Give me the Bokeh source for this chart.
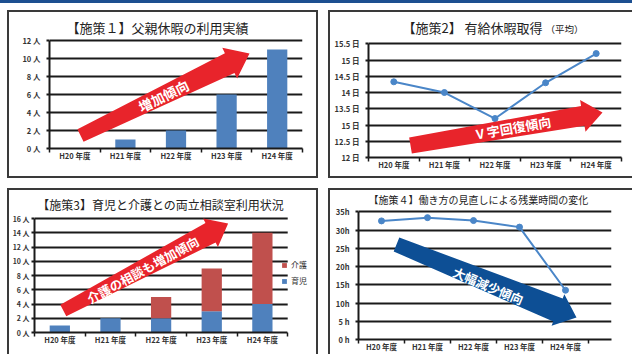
import math
from bokeh.plotting import figure
from bokeh.layouts import column, row
from bokeh.models import (Range1d, FixedTicker, Label, Legend, LegendItem, BoxAnnotation,
                          ColumnDataSource, PolyAnnotation, Spacer)
from bokeh.embed import file_html
from bokeh.resources import INLINE

# ---------------- data ----------------
categories = ["H20 年度", "H21 年度", "H22 年度", "H23 年度", "H24 年度"]
paternity_leave = [0, 1, 2, 6, 11]                     # 施策1 (人)
paid_leave_days = [14.33, 14.0, 13.2, 14.3, 15.2]      # 施策2 (日)
consult_childcare = [1, 2, 2, 3, 4]                     # 施策3 育児 (人)
consult_nursing = [0, 0, 3, 6, 10]                      # 施策3 介護 (人)
overtime_hours = [32.5, 33.4, 32.6, 30.8, 13.5]         # 施策4 (h)

p1_ticks = [0, 2, 4, 6, 8, 10, 12]
p1_tick_labels = ["0 人", "2 人", "4 人", "6 人", "8 人", "10 人", "12 人"]
p2_ticks = [12, 12.5, 13, 13.5, 14, 14.5, 15, 15.5]
p2_tick_labels = ["12 日", "12.5 日", "15 日", "13.5 日", "14 日", "14.5 日", "15 日", "15.5 日"]
p3_ticks = [0, 2, 4, 6, 8, 10, 12, 14, 16]
p3_tick_labels = ["0 人", "2 人", "4 人", "6 人", "8 人", "10 人", "12 人", "14 人", "16 人"]
p4_ticks = [0, 5, 10, 15, 20, 25, 30, 35]
p4_tick_labels = ["0 h", "5 h", "10h", "15h", "20h", "25h", "30h", "35h"]

titles = ["【施策１】父親休暇の利用実績", "【施策2】 有給休暇取得", "（平均）",
          "【施策3】育児と介護との両立相談室利用状況",
          "【施策４】働き方の見直しによる残業時間の変化"]
arrow_texts = ["増加傾向", "V 字回復傾向", "介護の相談も増加傾向", "大幅減少傾向"]
legend_labels = ["介護", "育児"]

FONT = "Noto Sans CJK JP"
BLUE = "#4f81bd"
RED = "#c0504d"
LINE = "#4a86c8"
ARROW_RED = "#e8242b"
ARROW_BLUE = "#0d4f95"
TOPBAR = "#1c4f90"
BORDER = "#3a3a3a"
INK = "#1a1a1a"

n = len(categories)
centers = [i + 0.5 for i in range(n)]
bounds = list(range(n + 1))


def make_panel(canvas, frame, chart, y_lo, y_axis_top, x_chart_hi, yticks, ylabels,
               ystandoff=6, yfont="7.5px"):
    """canvas/frame/chart boxes in absolute page pixels.  The frame reaches the
    canvas top so that titles can be drawn inside it, above the chart area."""
    cx, cy, cw, ch = canvas
    fl, ft, fr, fb = frame
    chart_right, chart_top = chart
    y_per_px = (y_axis_top - y_lo) / (fb - chart_top)
    x_per_px = x_chart_hi / (chart_right - fl)
    y_hi = y_lo + (fb - ft) * y_per_px
    x_hi = (fr - fl) * x_per_px
    p = figure(width=cw, height=ch, x_range=Range1d(0, x_hi), y_range=Range1d(y_lo, y_hi),
               min_border_left=fl - cx, min_border_right=cx + cw - fr,
               min_border_top=ft - cy, min_border_bottom=cy + ch - fb,
               output_backend="svg", toolbar_location=None, tools="",
               background_fill_color="white", border_fill_color="white",
               outline_line_color=None)

    def X(px):
        return (px - fl) * x_per_px

    def Y(py):
        return y_lo + (fb - py) * y_per_px

    xa = p.xaxis[0]
    xa.ticker = FixedTicker(ticks=centers, minor_ticks=bounds)
    xa.major_label_overrides = {c: lab for c, lab in zip(centers, categories)}
    xa.major_tick_line_color = None
    xa.major_tick_out = 0
    xa.minor_tick_line_color = INK
    xa.minor_tick_line_width = 1.5
    xa.minor_tick_out = 4
    xa.minor_tick_in = 0
    xa.axis_line_color = INK
    xa.axis_line_width = 2
    xa.major_label_standoff = -3
    xa.major_label_text_font = FONT
    xa.major_label_text_font_size = "7.5px"
    xa.major_label_text_font_style = "bold"
    xa.major_label_text_color = "#333333"

    ya = p.yaxis[0]
    ya.ticker = FixedTicker(ticks=yticks, minor_ticks=[])
    ya.bounds = (y_lo, y_axis_top)
    ya.major_label_overrides = dict(zip(yticks, ylabels))
    ya.major_tick_line_color = INK
    ya.major_tick_line_width = 2
    ya.major_tick_out = 3
    ya.major_tick_in = 0
    ya.axis_line_color = INK
    ya.axis_line_width = 2
    ya.major_label_standoff = ystandoff
    ya.major_label_text_font = FONT
    ya.major_label_text_font_size = yfont
    ya.major_label_text_font_style = "bold"
    ya.major_label_text_color = "#333333"

    p.xgrid.visible = False
    p.ygrid.ticker = FixedTicker(ticks=yticks)
    p.ygrid.grid_line_color = INK
    p.ygrid.grid_line_width = 2
    p.ygrid.grid_line_alpha = 1
    return p, X, Y


def add_arrow(p, X, Y, T, P, w0, w1, wh, lh, color):
    dx, dy = P[0] - T[0], P[1] - T[1]
    L = math.hypot(dx, dy)
    ux, uy = dx / L, dy / L
    nx, ny = -uy, ux
    bx, by = P[0] - ux * lh, P[1] - uy * lh
    pts = [(T[0] + nx * w0 / 2, T[1] + ny * w0 / 2),
           (bx + nx * w1 / 2, by + ny * w1 / 2),
           (bx + nx * wh / 2, by + ny * wh / 2),
           P,
           (bx - nx * wh / 2, by - ny * wh / 2),
           (bx - nx * w1 / 2, by - ny * w1 / 2),
           (T[0] - nx * w0 / 2, T[1] - ny * w0 / 2)]
    p.add_layout(PolyAnnotation(xs=[X(a) for a, b in pts], ys=[Y(b) for a, b in pts],
                                fill_color=color, fill_alpha=1, line_color=None))


def add_text(p, X, Y, x, y, text, size, color="#222222", align="center", angle=0.0,
             style="normal"):
    p.add_layout(Label(x=X(x), y=Y(y), text=text, text_font=FONT, text_font_size=size,
                       text_align=align, text_baseline="middle", text_color=color,
                       angle=math.radians(angle), text_font_style=style))


# ---------------- panel 1 ----------------
p1, X1, Y1 = make_panel((9, 12, 307, 164), (49, 12, 302, 148), (302, 40), 0, 12, 5,
                        p1_ticks, p1_tick_labels)
p1.vbar(x=centers, top=paternity_leave, width=0.4, fill_color=BLUE, line_color=None)
add_text(p1, X1, Y1, 157, 27, titles[0], "13px")
add_arrow(p1, X1, Y1, (80, 135), (249, 53), 14, 22, 34, 22, ARROW_RED)
add_text(p1, X1, Y1, 163, 95, arrow_texts[0], "13.5px", "white", angle=25.8, style="bold")

# ---------------- panel 2 ----------------
p2, X2, Y2 = make_panel((330, 12, 302, 164), (368, 12, 621, 157), (621, 43.3), 12, 15.5, 5,
                        p2_ticks, p2_tick_labels)
p2.line(x=centers, y=paid_leave_days, line_color=LINE, line_width=2)
p2.scatter(x=centers, y=paid_leave_days, size=6, fill_color=LINE, line_color=LINE)
add_text(p2, X2, Y2, 472, 27, titles[1], "13px")
add_text(p2, X2, Y2, 545, 28, titles[2], "9.5px", align="left")
add_arrow(p2, X2, Y2, (410, 145), (602, 112), 16, 20, 32, 20, ARROW_RED)
add_text(p2, X2, Y2, 513, 127, arrow_texts[1], "13px", "white", angle=9.8, style="bold")

# ---------------- panel 3 ----------------
p3, X3, Y3 = make_panel((9, 190, 307, 164), (32, 190, 316, 332), (287, 218), 0, 16, 5,
                        p3_ticks, p3_tick_labels, ystandoff=2, yfont="7px")
p3.xaxis[0].bounds = (0, 5)
src3 = ColumnDataSource(dict(x=centers, 育児=consult_childcare, 介護=consult_nursing))
stack = p3.vbar_stack(["育児", "介護"], x="x", width=0.4, color=[BLUE, RED],
                      line_color=None, source=src3)
# blank the strip right of the chart (legend area) so grid lines stop at the last category
p3.add_layout(BoxAnnotation(left=5, right=None, top=None, bottom=None,
                            fill_color="white", fill_alpha=1, line_color=None))
legend = Legend(items=[LegendItem(label=legend_labels[0], renderers=[stack[1]]),
                       LegendItem(label=legend_labels[1], renderers=[stack[0]])],
                location=(247, 46), padding=0, margin=0, spacing=5,
                glyph_width=6, glyph_height=6, label_height=8, label_width=15,
                label_standoff=4, border_line_color=None, background_fill_alpha=0,
                label_text_font=FONT, label_text_font_size="8px",
                label_text_color="#333333")
p3.add_layout(legend)
add_text(p3, X3, Y3, 159, 204, titles[3], "12px")
add_arrow(p3, X3, Y3, (61, 310), (227, 223), 13, 22, 32, 20, ARROW_RED)
add_text(p3, X3, Y3, 141, 269, arrow_texts[2], "12.5px", "white", angle=28.5, style="bold")

# ---------------- panel 4 ----------------
p4, X4, Y4 = make_panel((330, 190, 302, 164), (358, 190, 611, 339), (588, 211.3), 0, 35, 5,
                        p4_ticks, p4_tick_labels)
p4.line(x=centers, y=overtime_hours, line_color=LINE, line_width=2)
p4.scatter(x=centers, y=overtime_hours, size=6, fill_color=LINE, line_color=LINE)
add_text(p4, X4, Y4, 478, 199, titles[4], "10px")
add_arrow(p4, X4, Y4, (396, 244), (576, 317), 15, 25, 34, 20, ARROW_BLUE)
add_text(p4, X4, Y4, 488, 285, arrow_texts[3], "12.5px", "white", angle=-23.0, style="bold")


# ---------------- page frame (top bar, panel borders) ----------------
def sp(w, h, color=None):
    if color is None:
        return Spacer(width=w, height=h)
    return Spacer(width=w, height=h, styles={"background-color": color})


top_row = row(sp(7, 168), sp(2, 168, BORDER),
              column(sp(307, 2, BORDER), p1, sp(307, 2, BORDER), spacing=0),
              sp(2, 168, BORDER), sp(10, 168), sp(2, 168, BORDER),
              column(sp(302, 2, BORDER), p2, sp(302, 2, BORDER), spacing=0),
              spacing=0)
bottom_row = row(sp(7, 166), sp(2, 166, BORDER),
                 column(sp(307, 2, BORDER), p3, spacing=0),
                 sp(2, 166, BORDER), sp(10, 166), sp(2, 166, BORDER),
                 column(sp(302, 2, BORDER), p4, spacing=0),
                 spacing=0)
layout = column(sp(632, 3, TOPBAR), sp(632, 7), top_row, sp(632, 10), bottom_row,
                spacing=0)
open("out.html", "w").write(file_html(layout, INLINE))
